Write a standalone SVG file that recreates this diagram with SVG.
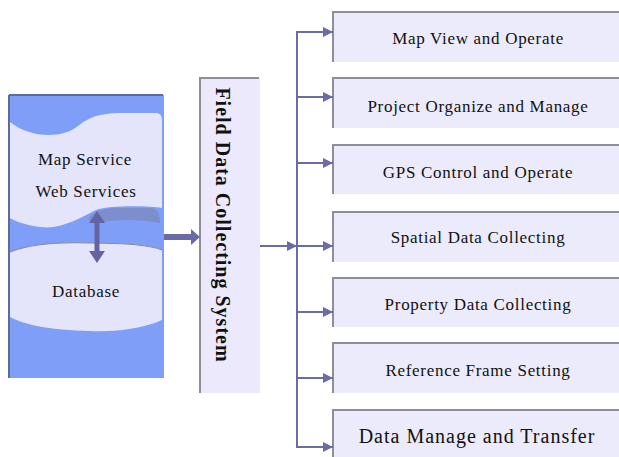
<svg xmlns="http://www.w3.org/2000/svg" width="619" height="457" viewBox="0 0 619 457">
<style>
  text { font-family: 'Liberation Serif', serif; fill: #111111; }
  .lbl { font-size: 17px; text-anchor: middle; letter-spacing: 0.7px; }
  .big { font-size: 20px; text-anchor: middle; letter-spacing: 1px; }
  .box { fill: #ebebfb; }
  .edge { stroke: #8e8e96; stroke-width: 2; fill: none; }
  .conn { stroke: #6b6ba6; stroke-width: 2; fill: none; }
</style>
<defs>
  <marker id="ah" viewBox="0 0 10 10" refX="10" refY="5" markerWidth="10" markerHeight="10" markerUnits="userSpaceOnUse" orient="auto">
    <path d="M0,0 L10,5 L0,10 Z" fill="#6b6ba6"/>
  </marker>
</defs>

<g id="left-panel" font-family="Liberation Serif, serif">
  <rect x="9" y="95" width="155" height="283" fill="#7f9ef8"/>
  <path d="M9,95 L163,95 M9,95 L9,378" stroke="#5d6a9e" stroke-width="2" fill="none"/>
  <g id="map-service">
    <path d="M10,122 C30,138 62,139 78,126 C92,114 108,113 125,113 L156,113 Q162,113 162,120 L162,208 C150,206 110,205 96,210 C80,218 60,230 40,227 C25,225 15,221 10,218 Z" fill="#e4e5fb"/>
    <path d="M88,219 C95,210 105,208 120,208 L150,208 C157,208 160,214 160,223 C140,219 110,219 95,224 Z" fill="#7c8ecb"/>
    <text class="lbl" x="85" y="165" font-family="Liberation Serif, serif">Map Service</text>
    <text class="lbl" x="86" y="197" font-family="Liberation Serif, serif">Web Services</text>
  </g>
  <g id="database">
    <path d="M10,252 C30,244 60,242 90,243 C130,243 150,245 162,250 L162,320 C140,330 110,332 90,331 C50,330 25,325 10,317 Z" fill="#e4e5fb"/>
    <path d="M10,252 C30,244 60,242 90,243 C130,243 150,245 162,250" stroke="#8a8a9a" stroke-width="1.2" fill="none"/>
    <text class="lbl" x="86" y="297" font-family="Liberation Serif, serif">Database</text>
  </g>
  <g id="db-link" fill="#6464a2">
    <rect x="94.5" y="220" width="5" height="34"/>
    <path d="M89,223 L97,211 L105,223 Z"/>
    <path d="M89,251 L97,263 L105,251 Z"/>
  </g>
</g>

<g id="field-system">
  <rect x="200" y="78" width="60" height="315" fill="#ebe9fb"/>
  <path d="M200,393 L200,78 L259,78" class="edge"/>
  <text transform="translate(216,225) rotate(90)" font-family="Liberation Serif, serif" font-size="20" font-weight="bold" text-anchor="middle" letter-spacing="1">Field Data Collecting System</text>
</g>

<g id="functions" font-family="Liberation Serif, serif">
  <g id="f1"><rect x="333" y="12" width="290" height="50" class="box"/><path d="M333,62 L333,12 L619,12" class="edge"/><text class="lbl" x="478" y="44" font-family="Liberation Serif, serif">Map View and Operate</text></g>
  <g id="f2"><rect x="333" y="78" width="290" height="50" class="box"/><path d="M333,128 L333,78 L619,78" class="edge"/><text class="lbl" x="478" y="112" font-family="Liberation Serif, serif">Project Organize and Manage</text></g>
  <g id="f3"><rect x="333" y="145" width="290" height="49" class="box"/><path d="M333,194 L333,145 L619,145" class="edge"/><text class="lbl" x="478" y="178" font-family="Liberation Serif, serif">GPS Control and Operate</text></g>
  <g id="f4"><rect x="333" y="212" width="290" height="50" class="box"/><path d="M333,262 L333,212 L619,212" class="edge"/><text class="lbl" x="478" y="243" font-family="Liberation Serif, serif">Spatial Data Collecting</text></g>
  <g id="f5"><rect x="333" y="278" width="290" height="49" class="box"/><path d="M333,327 L333,278 L619,278" class="edge"/><text class="lbl" x="478" y="310" font-family="Liberation Serif, serif">Property Data Collecting</text></g>
  <g id="f6"><rect x="333" y="343" width="290" height="50" class="box"/><path d="M333,393 L333,343 L619,343" class="edge"/><text class="lbl" x="478" y="376" font-family="Liberation Serif, serif">Reference Frame Setting</text></g>
  <g id="f7"><rect x="333" y="410" width="290" height="50" class="box"/><path d="M333,460 L333,410 L619,410" class="edge"/><text class="big" x="477" y="443" font-family="Liberation Serif, serif">Data Manage and Transfer</text></g>
</g>

<g id="connectors">
  <g fill="#6a6aa6">
    <rect x="164" y="234" width="28" height="6"/>
    <path d="M191,229 L200,237 L191,245 Z"/>
  </g>
  <line x1="297" y1="32" x2="297" y2="448" class="conn"/>
  <line x1="260" y1="246" x2="297" y2="246" class="conn" marker-end="url(#ah)"/>
  <line x1="296" y1="32" x2="333" y2="32" class="conn" marker-end="url(#ah)"/>
  <line x1="296" y1="97" x2="333" y2="97" class="conn" marker-end="url(#ah)"/>
  <line x1="296" y1="163" x2="333" y2="163" class="conn" marker-end="url(#ah)"/>
  <line x1="296" y1="246" x2="333" y2="246" class="conn" marker-end="url(#ah)"/>
  <line x1="296" y1="312" x2="333" y2="312" class="conn" marker-end="url(#ah)"/>
  <line x1="296" y1="378" x2="333" y2="378" class="conn" marker-end="url(#ah)"/>
  <line x1="296" y1="447" x2="333" y2="447" class="conn" marker-end="url(#ah)"/>
</g>
</svg>
